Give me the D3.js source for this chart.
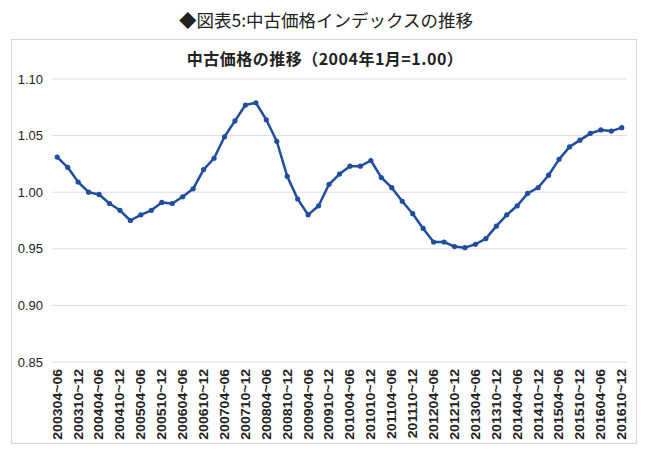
<!DOCTYPE html>
<html>
<head>
<meta charset="utf-8">
<script src="https://d3js.org/d3.v7.min.js"></script>
<style>
  body { margin: 0; background: #fff; }
  svg text { font-family: "Liberation Sans", Arial, sans-serif; }
  svg text.jp { font-family: "Noto Sans CJK JP", sans-serif; }
</style>
</head>
<body>
<svg id="chart" width="650" height="450"></svg>
<script>
// Quarterly periods, 2003 Q2 .. 2016 Q4
const periods = [
  '200304~06', '200307~09', '200310~12',
  '200401~03', '200404~06', '200407~09', '200410~12',
  '200501~03', '200504~06', '200507~09', '200510~12',
  '200601~03', '200604~06', '200607~09', '200610~12',
  '200701~03', '200704~06', '200707~09', '200710~12',
  '200801~03', '200804~06', '200807~09', '200810~12',
  '200901~03', '200904~06', '200907~09', '200910~12',
  '201001~03', '201004~06', '201007~09', '201010~12',
  '201101~03', '201104~06', '201107~09', '201110~12',
  '201201~03', '201204~06', '201207~09', '201210~12',
  '201301~03', '201304~06', '201307~09', '201310~12',
  '201401~03', '201404~06', '201407~09', '201410~12',
  '201501~03', '201504~06', '201507~09', '201510~12',
  '201601~03', '201604~06', '201607~09', '201610~12'
];
// Index values (2004 Jan = 1.00)
const values = [
  1.031, 1.022, 1.009,
  1.000, 0.998, 0.990, 0.984,
  0.975, 0.980, 0.984, 0.991,
  0.990, 0.996, 1.003, 1.020,
  1.030, 1.049, 1.063, 1.077,
  1.079, 1.064, 1.045, 1.014,
  0.994, 0.980, 0.988, 1.007,
  1.016, 1.023, 1.023, 1.028,
  1.013, 1.004, 0.992, 0.981,
  0.968, 0.956, 0.956, 0.952,
  0.951, 0.954, 0.959, 0.970,
  0.980, 0.988, 0.999, 1.004,
  1.015, 1.029, 1.040, 1.046,
  1.052, 1.055, 1.054, 1.057
];
const yTicks = [0.85, 0.90, 0.95, 1.00, 1.05, 1.10];
// labels shown on the x axis (every other quarter)
const xTickLabels = periods.filter((d, i) => i % 2 === 0);

const data = periods.map((p, i) => ({ period: p, value: values[i] }));

const svg = d3.select('#chart');

// Page title
svg.append('text')
  .attr('class', 'jp')
  .attr('x', 326)
  .attr('y', 27)
  .attr('text-anchor', 'middle')
  .attr('font-size', 17.5)
  .attr('fill', '#222')
  .text('◆図表5:中古価格インデックスの推移');

// Chart frame
svg.append('rect')
  .attr('x', 11.5)
  .attr('y', 39.5)
  .attr('width', 625)
  .attr('height', 404)
  .attr('fill', '#fff')
  .attr('stroke', '#d4d4d4');

// Chart title
svg.append('text')
  .attr('class', 'jp')
  .attr('x', 325)
  .attr('y', 65)
  .attr('text-anchor', 'middle')
  .attr('font-size', 16)
  .attr('letter-spacing', 0.5)
  .attr('font-weight', 'bold')
  .attr('fill', '#222')
  .text('中古価格の推移（2004年1月=1.00）');

const plotLeft = 52, plotRight = 627, plotTop = 79, plotBottom = 362;

const x = d3.scaleBand()
  .domain(periods)
  .range([plotLeft, plotRight]);

const y = d3.scaleLinear()
  .domain([0.85, 1.10])
  .range([plotBottom, plotTop]);

// Gridlines
svg.append('g')
  .selectAll('line')
  .data(yTicks)
  .enter()
  .append('line')
  .attr('x1', plotLeft)
  .attr('x2', plotRight)
  .attr('y1', d => y(d))
  .attr('y2', d => y(d))
  .attr('stroke', '#e5d6e8')
  .attr('stroke-width', 1);

// Y axis labels
const yAxis = d3.axisLeft(y)
  .tickValues(yTicks)
  .tickFormat(d3.format('.2f'))
  .tickSize(0)
  .tickPadding(8);

svg.append('g')
  .attr('transform', `translate(${plotLeft - 1},0)`)
  .call(yAxis)
  .call(g => g.select('.domain').remove())
  .call(g => g.selectAll('text')
    .attr('font-size', 13)
    .attr('fill', '#222')
    .style('font-family', '"Liberation Sans", Arial, sans-serif'));

// X axis labels (stretched a little, like the original)
const xAxis = d3.axisBottom(x)
  .tickValues(xTickLabels)
  .tickSize(0)
  .tickPadding(0);

svg.append('g')
  .attr('transform', `translate(0,${plotBottom})`)
  .call(xAxis)
  .call(g => g.select('.domain').remove())
  .call(g => g.selectAll('text')
    .attr('transform', 'rotate(-90) scale(1.13,1)')
    .attr('text-anchor', 'end')
    .attr('x', -6)
    .attr('y', 0)
    .attr('dy', '0.35em')
    .attr('font-size', 12.5)
    .attr('font-weight', 'bold')
    .attr('fill', '#222')
    .style('font-family', '"Liberation Sans", Arial, sans-serif'));

// Line
const line = d3.line()
  .x(d => x(d.period) + x.bandwidth() / 2)
  .y(d => y(d.value));

svg.append('path')
  .datum(data)
  .attr('fill', 'none')
  .attr('stroke', '#1f4e9e')
  .attr('stroke-width', 2.5)
  .attr('stroke-linejoin', 'round')
  .attr('d', line);

svg.append('g')
  .selectAll('circle')
  .data(data)
  .enter()
  .append('circle')
  .attr('cx', d => x(d.period) + x.bandwidth() / 2)
  .attr('cy', d => y(d.value))
  .attr('r', 2.6)
  .attr('fill', '#1f4e9e');
</script>
</body>
</html>
